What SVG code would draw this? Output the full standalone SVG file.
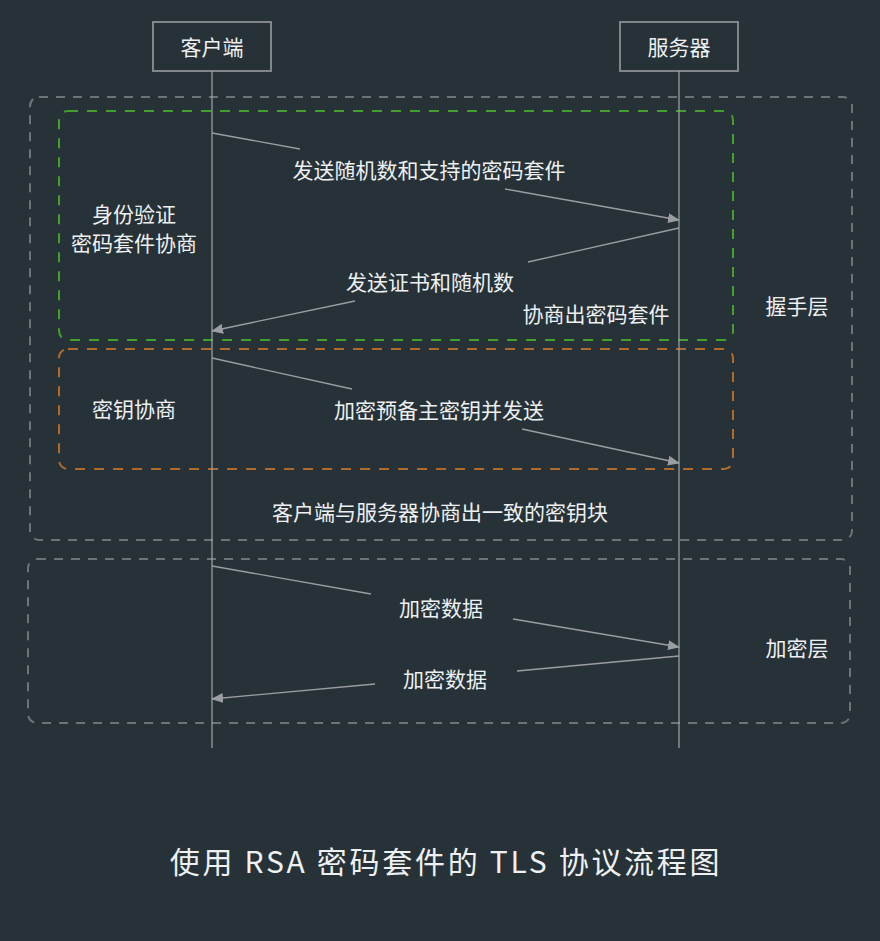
<svg xmlns="http://www.w3.org/2000/svg" width="880" height="941" viewBox="0 0 880 941">
<style>
text{font-family:"Noto Sans CJK SC","Liberation Sans",sans-serif;fill:#eef0f1;font-size:21px;text-anchor:middle}
.actor{fill:none;stroke:#80868a;stroke-width:2}
.life{stroke:#a3a7aa;stroke-width:1.2;fill:none}
.msg{stroke:#9a9ea1;stroke-width:1.3;fill:none}
.grp{fill:none;stroke:#6d7478;stroke-width:2;stroke-dasharray:9 8}
.green{fill:none;stroke:#42a02c;stroke-width:2;stroke-dasharray:10 9}
.orange{fill:none;stroke:#b06a2a;stroke-width:2;stroke-dasharray:10 9}
.title{font-size:30px;letter-spacing:2.7px}
</style>
<defs>
<marker id="ah" markerUnits="userSpaceOnUse" markerWidth="12" markerHeight="10" refX="11" refY="5" orient="auto">
<path d="M0,0 L12,5 L0,10 Z" fill="#9a9ea1"/>
</marker>
</defs>
<rect width="880" height="941" fill="#263238"/>
<g id="groups">
<rect id="handshake-layer" class="grp" x="30" y="97" width="822" height="443" rx="9"/>
<rect id="auth-box" class="green" x="59" y="111" width="674" height="229" rx="9"/>
<rect id="key-box" class="orange" x="59" y="349" width="674" height="120" rx="9"/>
<rect id="encrypt-layer" class="grp" x="28" y="559" width="822" height="164" rx="9"/>
</g>
<g id="client">
<rect class="actor" x="153" y="22" width="118" height="49"/>
<text x="212" y="55">客户端</text>
</g>
<g id="server">
<rect class="actor" x="620" y="22" width="118" height="49"/>
<text x="679" y="55">服务器</text>
</g>
<g id="connectors">
<line class="life" x1="212" y1="71" x2="212" y2="748"/>
<line class="life" x1="679" y1="71" x2="679" y2="748"/>
<line class="msg" x1="212" y1="133" x2="300" y2="149"/>
<line class="msg" x1="505" y1="189" x2="679" y2="220" marker-end="url(#ah)"/>
<line class="msg" x1="679" y1="228" x2="528" y2="262"/>
<line class="msg" x1="355" y1="301" x2="212" y2="331" marker-end="url(#ah)"/>
<line class="msg" x1="212" y1="358" x2="352" y2="389"/>
<line class="msg" x1="522" y1="429" x2="679" y2="463" marker-end="url(#ah)"/>
<line class="msg" x1="212" y1="566" x2="371" y2="594"/>
<line class="msg" x1="513" y1="619" x2="679" y2="647" marker-end="url(#ah)"/>
<line class="msg" x1="679" y1="656" x2="517" y2="671"/>
<line class="msg" x1="375" y1="684" x2="212" y2="699" marker-end="url(#ah)"/>
</g>
<g id="labels">
<text x="429" y="178">发送随机数和支持的密码套件</text>
<text x="430" y="290">发送证书和随机数</text>
<text x="596" y="322">协商出密码套件</text>
<text x="134" y="222">身份验证</text>
<text x="134" y="251">密码套件协商</text>
<text x="134" y="417">密钥协商</text>
<text x="439" y="418">加密预备主密钥并发送</text>
<text x="440" y="520">客户端与服务器协商出一致的密钥块</text>
<text x="797" y="314">握手层</text>
<text x="441" y="616">加密数据</text>
<text x="445" y="687">加密数据</text>
<text x="797" y="656">加密层</text>
<text class="title" x="446" y="873">使用 RSA 密码套件的 TLS 协议流程图</text>
</g>
</svg>
